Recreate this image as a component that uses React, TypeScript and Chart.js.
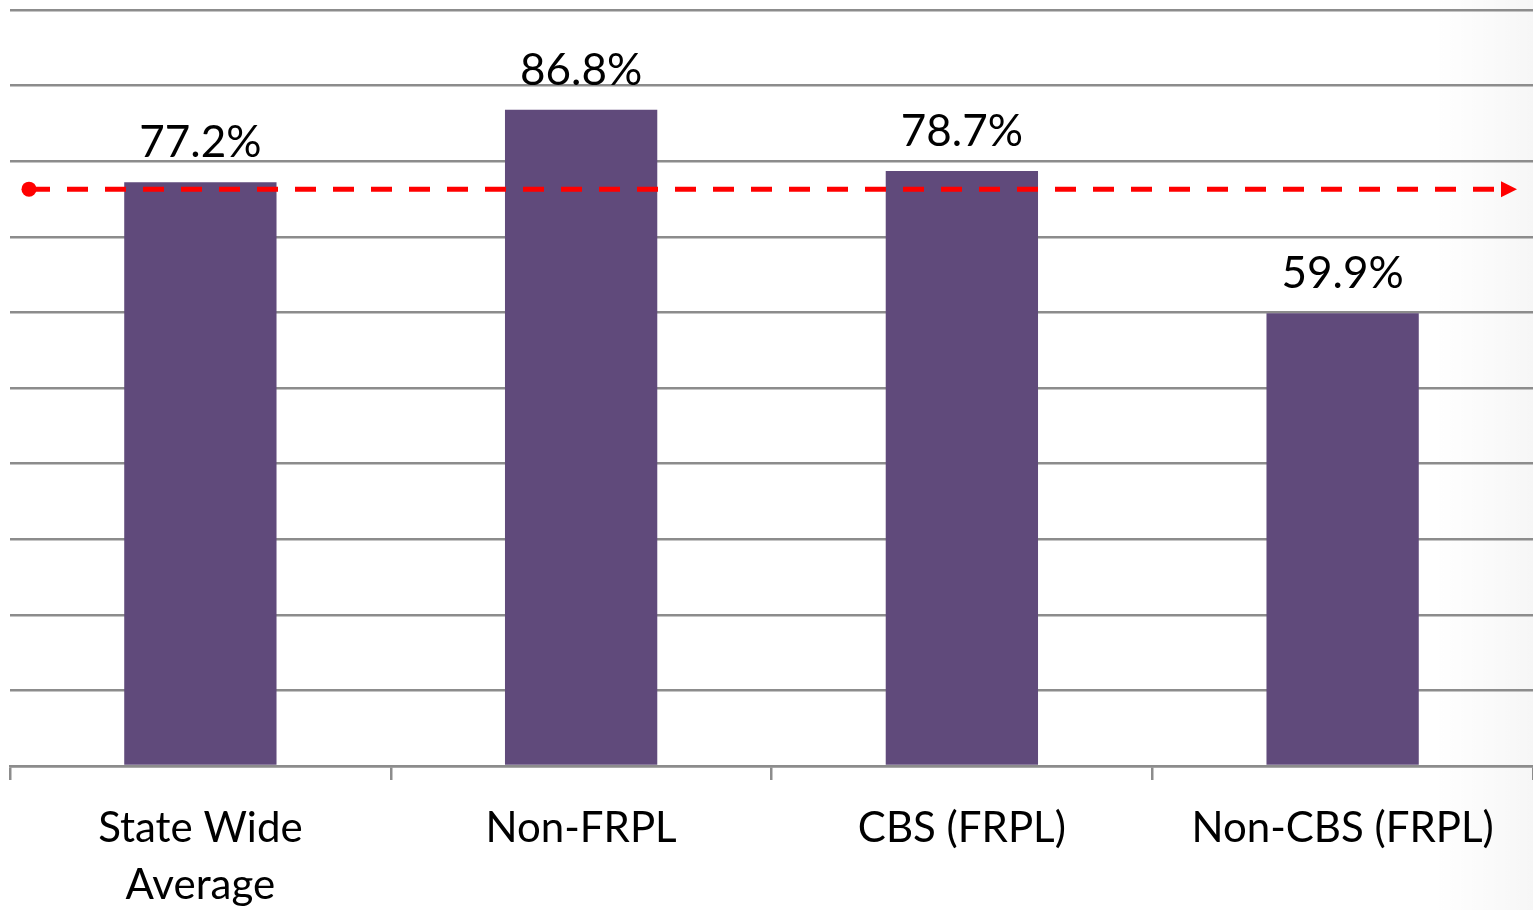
import React, { useEffect, useRef } from "react";
import { Chart, registerables } from "chart.js";

Chart.register(...registerables);

const categories: (string | string[])[] = [["State Wide", "Average"], "Non-FRPL", "CBS (FRPL)", "Non-CBS (FRPL)"];
const values: number[] = [77.2, 86.8, 78.7, 59.9];
const valueLabels: string[] = ["77.2%", "86.8%", "78.7%", "59.9%"];
const referenceLineValue = 76.3;

const FONT = "Lato, 'Open Sans', sans-serif";

const dataLabelPlugin = {
  id: "dataLabels",
  afterDatasetsDraw(chart: any) {
    const ctx = chart.ctx;
    const meta = chart.getDatasetMeta(0);
    ctx.save();
    ctx.font = `44px ${FONT}`;
    ctx.fillStyle = "#000";
    ctx.textAlign = "center";
    ctx.textBaseline = "alphabetic";
    meta.data.forEach((bar: any, i: number) => {
      ctx.fillText(valueLabels[i], bar.x, bar.y - 25);
    });
    ctx.restore();
  },
};

const refLinePlugin = {
  id: "refLine",
  afterDraw(chart: any) {
    const ctx = chart.ctx;
    const area = chart.chartArea;
    const y = chart.scales.y.getPixelForValue(referenceLineValue);
    const x0 = area.left + 19;
    const x1 = area.right - 16;
    ctx.save();
    ctx.strokeStyle = "#ff0000";
    ctx.fillStyle = "#ff0000";
    ctx.lineWidth = 5;
    ctx.setLineDash([21, 17]);
    ctx.beginPath();
    ctx.moveTo(x0, y);
    ctx.lineTo(x1 - 18, y);
    ctx.stroke();
    ctx.setLineDash([]);
    ctx.beginPath();
    ctx.arc(x0, y, 7.5, 0, Math.PI * 2);
    ctx.fill();
    ctx.beginPath();
    ctx.moveTo(x1 - 16, y - 8);
    ctx.lineTo(x1, y);
    ctx.lineTo(x1 - 16, y + 8);
    ctx.closePath();
    ctx.fill();
    ctx.restore();
  },
};

const shadePlugin = {
  id: "shade",
  beforeDraw(chart: any) {
    const ctx = chart.ctx;
    const w = chart.width;
    const h = chart.height;
    ctx.save();
    ctx.fillStyle = "#ffffff";
    ctx.fillRect(0, 0, w, h);
    const g = ctx.createLinearGradient(w - 100, 0, w, 0);
    g.addColorStop(0, "rgba(0,0,0,0)");
    g.addColorStop(1, "rgba(0,0,0,0.035)");
    ctx.fillStyle = g;
    ctx.fillRect(w - 100, 0, 100, h);
    ctx.restore();
  },
};

export default function App() {
  const ref = useRef<HTMLCanvasElement | null>(null);
  useEffect(() => {
    if (!ref.current) return;
    const chart = new Chart(ref.current, {
      type: "bar",
      data: {
        labels: categories,
        datasets: [
          {
            data: values,
            backgroundColor: "#604a7b",
            barPercentage: 0.4,
            categoryPercentage: 1,
          },
        ],
      },
      options: {
        animation: false,
        responsive: false,
        layout: { padding: { left: 10, top: 10, right: 0, bottom: 0 } },
        plugins: { legend: { display: false }, tooltip: { enabled: false } },
        scales: {
          x: {
            grid: {
              drawOnChartArea: false,
              drawTicks: true,
              tickLength: 14,
              color: "#8c8c8c",
              lineWidth: 2.5,
              offset: true,
            },
            border: { display: true, color: "#8c8c8c", width: 2.5 },
            ticks: {
              color: "#000",
              font: { family: FONT, size: 42, lineHeight: 1.38 },
              padding: 19,
              maxRotation: 0,
              autoSkip: false,
            },
            afterFit(scale: any) {
              scale.height = 144;
            },
          },
          y: {
            min: 0,
            max: 100,
            ticks: { display: false, stepSize: 10 },
            grid: { color: "#8c8c8c", lineWidth: 2.5, drawTicks: false },
            border: { display: false },
            afterFit(scale: any) {
              scale.width = 0;
            },
          },
        },
      },
      plugins: [shadePlugin, dataLabelPlugin, refLinePlugin],
    });
    return () => chart.destroy();
  }, []);
  return (
    <div style={{ position: "absolute", left: 0, top: 0, width: 1533, height: 910 }}>
      <canvas ref={ref} width={1533} height={910} style={{ display: "block" }} />
    </div>
  );
}
